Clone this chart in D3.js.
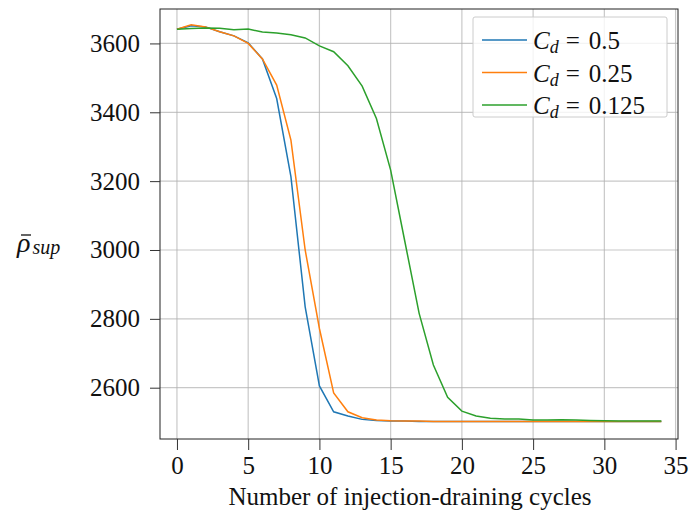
<!DOCTYPE html>
<html>
<head>
<meta charset="utf-8">
<script src="https://cdn.jsdelivr.net/npm/d3@7"></script>
<style>
  body { margin: 0; background: #fff; }
  text { font-family: "Liberation Serif", "DejaVu Serif", serif; }
</style>
</head>
<body>
<svg id="chart" width="694" height="521"></svg>
<script>
// cycles 0..34
var cycles = d3.range(0, 35);

var rho_05 = [3641, 3651, 3648, 3634, 3622, 3602, 3555, 3440, 3213, 2835,
              2605, 2530, 2518, 2508, 2505, 2503, 2503, 2502, 2502, 2502,
              2502, 2502, 2502, 2502, 2502, 2502, 2502, 2502, 2502, 2502,
              2502, 2502, 2502, 2502, 2502];
var rho_025 = [3641, 3654, 3648, 3634, 3622, 3600, 3555, 3479, 3319, 3000,
               2772, 2585, 2530, 2513, 2506, 2504, 2503, 2503, 2502, 2502,
               2502, 2502, 2502, 2502, 2502, 2502, 2502, 2502, 2502, 2502,
               2502, 2502, 2502, 2502, 2502];
var rho_0125 = [3641, 3643, 3645, 3644, 3640, 3642, 3633, 3630, 3625, 3616,
                3593, 3576, 3535, 3476, 3382, 3232, 3024, 2816, 2666, 2572,
                2532, 2518, 2511, 2509, 2509, 2506, 2506, 2507, 2506, 2505,
                2504, 2503, 2503, 2503, 2503];

var seriesNames = ["0.5", "0.25", "0.125"];
var seriesColors = ["#1f77b4", "#ff7f0e", "#2ca02c"];
var xTicks = [0, 5, 10, 15, 20, 25, 30, 35];
var yTicks = [2600, 2800, 3000, 3200, 3400, 3600];

var margin = {top: 9, right: 16, bottom: 82, left: 160},
    width = 694 - margin.left - margin.right,
    height = 521 - margin.top - margin.bottom;

var svg = d3.select("#chart")
  .append("g")
  .attr("transform", "translate(" + margin.left + "," + margin.top + ")");

var x = d3.scaleLinear().domain([-1.19, 35.17]).range([0, width]);
var y = d3.scaleLinear().domain([2451, 3700]).range([height, 0]);

// grid
svg.append("g").selectAll("line.gx")
  .data(xTicks).enter().append("line")
  .attr("x1", function(d) { return x(d); }).attr("x2", function(d) { return x(d); })
  .attr("y1", 0).attr("y2", height)
  .attr("stroke", "#b0b0b0").attr("stroke-opacity", 0.7).attr("stroke-width", 1.2);
svg.append("g").selectAll("line.gy")
  .data(yTicks).enter().append("line")
  .attr("y1", function(d) { return y(d); }).attr("y2", function(d) { return y(d); })
  .attr("x1", 0).attr("x2", width)
  .attr("stroke", "#b0b0b0").attr("stroke-opacity", 0.7).attr("stroke-width", 1.2);

// lines
var allSeries = [rho_05, rho_025, rho_0125];
var line = d3.line()
  .x(function(d, i) { return x(cycles[i]); })
  .y(function(d) { return y(d); });

allSeries.forEach(function(s, k) {
  svg.append("path")
    .datum(s)
    .attr("fill", "none")
    .attr("stroke", seriesColors[k])
    .attr("stroke-width", 1.5)
    .attr("d", line);
});

// frame
svg.append("rect")
  .attr("x", 0).attr("y", 0).attr("width", width).attr("height", height)
  .attr("fill", "none").attr("stroke", "#222").attr("stroke-width", 1);

// axes
var xAxis = d3.axisBottom(x).tickValues(xTicks).tickSize(11).tickPadding(6);
var yAxis = d3.axisLeft(y).tickValues(yTicks).tickSize(10).tickPadding(10)
  .tickFormat(d3.format("d"));

var gx = svg.append("g")
  .attr("transform", "translate(0," + height + ")")
  .call(xAxis);
var gy = svg.append("g").call(yAxis);

[gx, gy].forEach(function(g) {
  g.select(".domain").remove();
  g.selectAll("line").attr("stroke", "#333");
  g.selectAll("text")
    .style("font-family", "Liberation Serif")
    .style("font-size", "25px")
    .attr("fill", "#111");
});

// x-label
svg.append("text")
  .attr("x", width / 2 - 9)
  .attr("y", height + 66)
  .attr("text-anchor", "middle")
  .style("font-size", "25px")
  .attr("fill", "#111")
  .text("Number of injection-draining cycles");

// y-label: rho with bar, subscript sup
var yl = d3.select("#chart").append("text")
  .attr("x", 17).attr("y", 252)
  .attr("fill", "#111");
yl.append("tspan")
  .style("font-size", "28px").style("font-style", "italic")
  .text("\u03C1");
yl.append("tspan")
  .attr("dx", 2).attr("dy", 2)
  .style("font-size", "20px").style("font-style", "italic")
  .text("sup");
// bar over rho
d3.select("#chart").append("line")
  .attr("x1", 21).attr("x2", 31)
  .attr("y1", 235).attr("y2", 235)
  .attr("stroke", "#111").attr("stroke-width", 1.3);

// legend
var leg = svg.append("g")
  .attr("transform", "translate(" + (473 - margin.left) + "," + (17 - margin.top) + ")");
leg.append("rect")
  .attr("width", 194).attr("height", 100)
  .attr("rx", 2)
  .attr("fill", "#fff").attr("fill-opacity", 0.8)
  .attr("stroke", "#ccc");

seriesNames.forEach(function(n, k) {
  var row = leg.append("g").attr("transform", "translate(0," + (23 + k * 32.5) + ")");
  row.append("line")
    .attr("x1", 9).attr("x2", 54)
    .attr("stroke", seriesColors[k]).attr("stroke-width", 1.5);
  var t = row.append("text")
    .attr("x", 60).attr("y", 9)
    .style("font-size", "25px")
    .attr("fill", "#111");
  t.append("tspan").style("font-style", "italic").text("C");
  t.append("tspan").style("font-style", "italic").style("font-size", "18px").attr("dy", 4).text("d");
  t.append("tspan").attr("dy", -4).attr("dx", 7).text("=");
  t.append("tspan").attr("dx", 9).text(n);
});
</script>
</body>
</html>
